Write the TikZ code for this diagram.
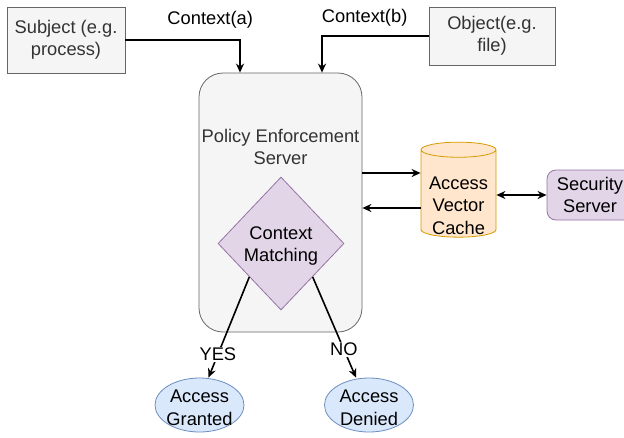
\documentclass[tikz,border=0pt]{standalone}
\usepackage{fontspec}
\setmainfont{Liberation Sans}
\usepackage{tikz}
\usetikzlibrary{shapes.geometric,arrows.meta,positioning}
\definecolor{boxfill}{HTML}{F5F5F5}
\definecolor{boxline}{HTML}{666666}
\definecolor{boxtext}{HTML}{333333}
\definecolor{lilac}{HTML}{E1D5E7}
\definecolor{lilacline}{HTML}{9673A6}
\definecolor{cachefill}{HTML}{FFE6CC}
\definecolor{cacheline}{HTML}{D79B00}
\definecolor{bluefill}{HTML}{DAE8FC}
\definecolor{blueline}{HTML}{6C8EBF}

\begin{document}
\begin{tikzpicture}[
    x = 1pt, y = -1pt,
    font = \fontsize{18.3}{22.5}\selectfont,
    > = {Stealth[length=9pt, width=8pt]},
    flow/.style={->, line width=1.6pt},
    actor/.style={rectangle, draw=boxline, fill=boxfill, text=boxtext, align=center, minimum width=118pt, minimum height=66pt, line width=0.8pt},
    server/.style={rectangle, rounded corners=24pt, draw=boxline, fill=boxfill, minimum width=163pt, minimum height=259pt, line width=0.8pt},
    check/.style={diamond, draw=lilacline, fill=lilac, inner sep=0pt, aspect=0.95, minimum width=126pt, minimum height=133pt, line width=0.8pt},
    cache/.style={cylinder, shape border rotate=90, aspect=0.28, draw=cacheline, fill=cachefill, inner sep=1pt, minimum width=75pt, minimum height=95pt, line width=0.8pt},
    secsrv/.style={rectangle, rounded corners=9pt, draw=lilacline, fill=lilac, align=center, minimum width=86pt, minimum height=50pt, line width=0.8pt},
    result/.style={ellipse, draw=blueline, fill=bluefill, inner sep=0pt, minimum width=89pt, minimum height=54pt, line width=0.8pt},
    inner/.style={align=center},
    tag/.style={fill=white, inner sep=1pt}
]
\useasboundingbox (0,0) rectangle (624,437);

% Subject and object
\node[actor] (subj) at (66,40) {Subject (e.g.\\process)};
\node[actor, minimum width=126pt, minimum height=58pt] (obj) at (492,36) {Object(e.g.\\file)};

% Policy enforcement server
\node[server] (pes) at (280.5,202.5) {};
\node[text=boxtext, align=center] (pestxt) at (280.5,147) {Policy Enforcement\\Server};
\node[check, label={[inner, yshift=-2.5pt]center:Context\\Matching}] (match) at (281,243.5) {};

% Cache and security server
\node[cache, label={[inner, yshift=-11pt]center:Access\\Vector\\Cache}] (avc) at (458.5,194.5) {\hphantom{Vector}\vphantom{Ag}};
\node[secsrv] (sec) at (590,195) {Security\\Server};

% Results
\node[result, label={[inner, yshift=-3pt]center:Access\\Granted}] (grant) at (199.5,405) {};
\node[result, label={[inner, yshift=-3pt]center:Access\\Denied}] (deny) at (369,405) {};

% Context inputs
\draw[flow] (subj.east) -| node[pos=0.37, above=8pt] {Context(a)} ([xshift=-40.5pt]pes.north);
\draw[flow] (obj.west) -| node[pos=0.3, above=6pt] {Context(b)} ([xshift=41.5pt]pes.north);

% Cache lookups
\draw[flow] ([yshift=29.5pt]pes.east) -- ([yshift=29.5pt]pes.east -| avc.west);
\draw[flow] ([yshift=-5.5pt]pes.east -| avc.west) -- ([yshift=-5.5pt]pes.east);
\draw[<->, line width=1.6pt] (avc.east |- sec.west) -- (sec.west);

% Decisions
\draw[flow] (match.south west) -- node[tag, pos=0.77] {YES} ([xshift=9pt]grant.north);
\draw[flow] (match.south east) -- node[tag, pos=0.72] {NO} ([xshift=-13pt]deny.north);

\end{tikzpicture}
\end{document}
